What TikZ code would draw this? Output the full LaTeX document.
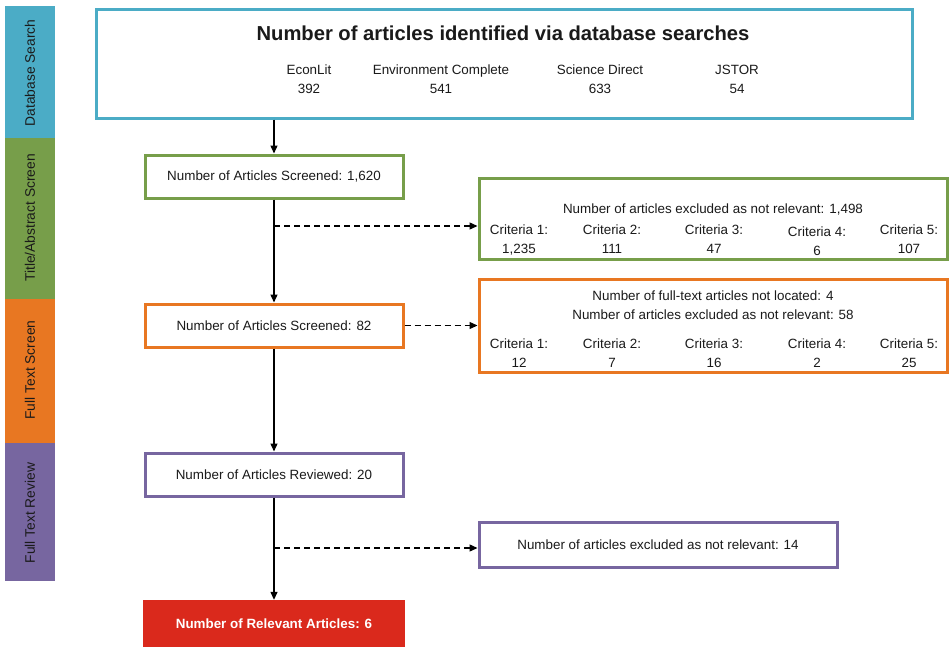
\documentclass[tikz,border=0pt]{standalone}
\usepackage{fontspec}
\setmainfont{Liberation Sans}
\usetikzlibrary{arrows.meta,calc}
\definecolor{cblue}{HTML}{4BACC6}
\definecolor{cgreen}{HTML}{779E4A}
\definecolor{corange}{HTML}{E87722}
\definecolor{cpurple}{HTML}{7766A0}
\definecolor{cred}{HTML}{DA291C}
\definecolor{ctext}{HTML}{1A1A1A}
\begin{document}
\begin{tikzpicture}[x=1pt,y=-1pt,
  box/.style={draw=#1, line width=3pt, fill=white, inner sep=0pt},
  lbl/.style={font=\fontsize{13.4}{19}\selectfont, text=ctext, inner sep=0pt, align=center},
  side/.style={font=\fontsize{13.8}{16}\selectfont, text=ctext, rotate=90, inner sep=0pt},
  arr/.style={line width=1.3pt, -{Triangle[length=8pt,width=7pt]}},
  dsh/.style={line width=1.3pt, dash pattern=on 6pt off 4pt, -{Triangle[length=8pt,width=7pt]}}
]
\useasboundingbox (0,0) rectangle (951,646);
% side bars
\fill[cblue] (5,6) rectangle (55,138);
\fill[cgreen] (5,138) rectangle (55,299);
\fill[corange] (5,299) rectangle (55,443);
\fill[cpurple] (5,443) rectangle (55,581);
\node[side] (sb1) at (30,73) {Database Search};
\node[side] (sb2) at (30,218) {Title/Abstract Screen};
\node[side] (sb3) at (30,370) {Full Text Screen};
\node[side] (sb4) at (30,513) {Full Text Review};
% top box
\node[box=cblue, minimum width=816, minimum height=109] (top) at (504,63.5) {};
\node[lbl, font=\fontsize{20.2}{22}\selectfont\bfseries] (title) at (503,33) {Number of articles identified via database searches};
\node[lbl] (db1) at (309,79.5) {EconLit\\392};
\node[lbl] (db2) at (441,79.5) {Environment Complete\\541};
\node[lbl] (db3) at (600,79.5) {Science Direct\\633};
\node[lbl] (db4) at (737,79.5) {JSTOR\\54};
% stage 1
\node[box=cgreen, minimum width=258, minimum height=43, lbl] (s1) at (274,176.5) {Number of Articles Screened: 1,620};
\node[box=cgreen, minimum width=468, minimum height=81] (e1) at (713,218.5) {};
\node[lbl] (e1t) at (713,209) {Number of articles excluded as not relevant: 1,498};
\node[lbl] (e1a) at (519,239.5) {Criteria 1:\\1,235};
\node[lbl] (e1b) at (612,239.5) {Criteria 2:\\111};
\node[lbl] (e1c) at (714,239.5) {Criteria 3:\\47};
\node[lbl] (e1d) at (817,241.5) {Criteria 4:\\6};
\node[lbl] (e1e) at (909,239.5) {Criteria 5:\\107};
% stage 2
\node[box=corange, minimum width=468, minimum height=93] (e2) at (713,325.5) {};
\node[box=corange, minimum width=258, minimum height=43, lbl] (s2) at (274,325.5) {Number of Articles Screened: 82};
\node[lbl] (e2t) at (713,305.5) {Number of full-text articles not located: 4\\Number of articles excluded as not relevant: 58};
\node[lbl] (e2a) at (519,353) {Criteria 1:\\12};
\node[lbl] (e2b) at (612,353) {Criteria 2:\\7};
\node[lbl] (e2c) at (714,353) {Criteria 3:\\16};
\node[lbl] (e2d) at (817,353) {Criteria 4:\\2};
\node[lbl] (e2e) at (909,353) {Criteria 5:\\25};
% stage 3
\node[box=cpurple, minimum width=258, minimum height=43, lbl] (s3) at (274,474.5) {Number of Articles Reviewed: 20};
\node[box=cpurple, minimum width=358, minimum height=45] (e3) at (658,544.5) {};
\node[lbl] (e3t) at (658,545) {Number of articles excluded as not relevant: 14};
% final
\node[fill=cred, minimum width=262, minimum height=48, inner sep=0pt, text=white, font=\fontsize{13.4}{16}\selectfont\bfseries] (fin) at (274,624) {Number of Relevant Articles: 6};
% connectors
\draw[arr] (top.south -| s1.north) -- (s1.north);
\draw[arr] (s1.south) -- (s2.north);
\draw[arr] (s2.south) -- (s3.north);
\draw[arr] (s3.south) -- (fin.north);
\coordinate (j1) at (274,226);
\coordinate (j3) at (274,548);
\draw[dsh] (j1) -- (j1 -| e1.west);
\draw[dsh] (s2.east) -- (s2.east -| e2.west);
\draw[dsh] (j3) -- (j3 -| e3.west);
\end{tikzpicture}
\end{document}
